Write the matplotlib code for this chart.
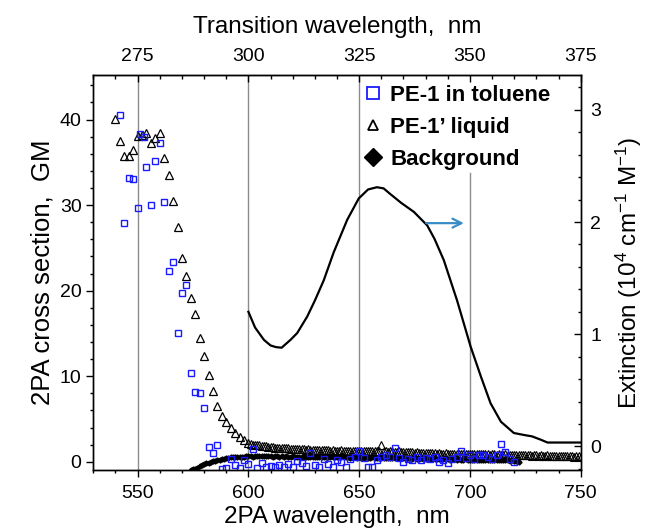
import numpy as np
import matplotlib
matplotlib.use('Agg')
from matplotlib import pyplot as plt
from matplotlib.lines import Line2D
from matplotlib.ticker import MultipleLocator, FixedLocator

plt.rcParams['font.family'] = ['Liberation Sans', 'DejaVu Sans']
plt.rcParams['mathtext.default'] = 'regular'

# PE-1' liquid (triangles), sparse part + dense scan
liq_x = [540, 542, 544, 546, 548, 550, 552, 554, 556, 558, 560, 562, 564, 566, 568,
         570, 572, 574, 576, 578, 580, 582, 584, 586, 588, 590, 592, 594, 596, 598, 600]
liq_y = [40.1, 37.5, 35.7, 35.7, 36.4, 38.1, 38.2, 38.4, 37.3, 37.8, 38.4, 35.5, 33.5,
         30.5, 27.4, 23.8, 21.7, 19.1, 17.3, 14.5, 12.3, 10.1, 8.3, 6.5, 5.3, 4.6, 4.0,
         3.4, 2.9, 2.5, 2.2]
liq_scan_x = np.arange(601, 751)
liq_scan_y = [2.1, 2.0, 2.0, 1.9, 1.9, 1.85, 1.8, 1.8, 1.75, 1.7,
              1.7, 1.65, 1.65, 1.6, 1.6, 1.6, 1.55, 1.55, 1.5, 1.5,
              1.5, 1.45, 1.5, 1.45, 1.45, 1.4, 1.45, 1.4, 1.4, 1.4,
              1.35, 1.4, 1.35, 1.35, 1.4, 1.35, 1.3, 1.35, 1.3, 1.3,
              1.3, 1.35, 1.3, 1.3, 1.25, 1.3, 1.3, 1.25, 1.3, 1.25,
              1.25, 1.3, 1.25, 1.25, 1.2, 1.25, 1.25, 1.2, 1.25, 1.9,
              1.2, 1.2, 1.15, 1.2, 1.2, 1.15, 1.15, 1.2, 1.1, 1.15,
              1.1, 1.1, 1.15, 1.1, 1.05, 1.1, 1.05, 1.05, 1.0, 1.05,
              1.0, 1.0, 1.05, 1.0, 0.95, 1.0, 0.95, 0.95, 1.0, 0.95,
              0.95, 0.9, 0.95, 0.9, 0.9, 0.95, 0.9, 0.9, 0.85, 0.9,
              0.9, 0.85, 0.9, 0.85, 0.85, 0.9, 0.85, 0.85, 0.8, 0.85,
              0.85, 0.8, 0.85, 0.8, 0.8, 0.85, 0.8, 0.8, 0.75, 0.8,
              0.8, 0.75, 0.8, 0.75, 0.75, 0.8, 0.75, 0.7, 0.75, 0.75,
              0.7, 0.75, 0.7, 0.7, 0.75, 0.7, 0.7, 0.65, 0.7, 0.7,
              0.65, 0.7, 0.65, 0.65, 0.7, 0.65, 0.6, 0.65, 0.65, 0.6]

# PE-1 in toluene (squares)
tol_x = [542, 544, 546, 548, 550, 551, 553, 554, 556, 558, 560, 562, 564, 566, 568,
         570, 572, 574, 576, 578, 580, 582, 584, 586, 588, 590, 592, 594, 596, 598,
         600, 602, 604, 606, 608, 610, 612, 614, 616, 618, 620, 622, 624, 626, 628,
         630, 632, 634, 636, 638, 640, 642, 644, 646, 648, 650, 652, 654, 656, 658,
         660, 662, 664, 666, 668, 670, 672, 674, 676, 678, 680, 682, 684, 686, 688,
         690, 692, 694, 696, 698, 700, 702, 704, 706, 708, 710, 712, 714, 716, 718, 720]
tol_y = [40.5, 27.9, 33.2, 33.1, 29.7, 38.3, 38.0, 34.5, 30.0, 35.2, 37.3, 30.3, 22.3,
         23.3, 15.0, 19.7, 20.6, 10.4, 8.1, 8.0, 6.3, 1.7, 1.0, 1.9, -0.8, -0.7, 0.3,
         -0.4, -0.7, 0.2, -0.3, 1.5, -0.7, -0.2, -0.6, -0.5, -0.6, -0.4, -0.6, -0.3,
         -0.6, 0.1, -0.2, -0.5, 1.0, -0.4, -0.6, 0.3, -0.3, -0.6, 0.2, 0.0, -0.6, 0.3,
         0.6, 1.3, 0.4, -0.6, -0.6, 0.2, 0.5, 0.8, 0.6, 1.6, 0.4, 0.0, 0.3, 0.2, 0.5,
         0.2, 0.4, 0.3, 0.5, 0.0, 0.2, -0.2, 0.3, 0.5, 1.2, 0.4, 0.8, 0.3, 0.8, 0.8,
         0.5, 0.3, 0.8, 2.1, 1.1, 0.3, 0.0]

# Background (small filled diamonds)
bg_x = np.arange(574, 723)
bg_y = [-1.0, -0.9, -0.8, -0.7, -0.55, -0.4, -0.3, -0.2, -0.1, 0.0,
        0.05, 0.1, 0.2, 0.25, 0.3, 0.35, 0.4, 0.45, 0.5, 0.5,
        0.55, 0.55, 0.6, 0.6, 0.6, 0.65, 0.65, 0.65, 0.6, 0.65,
        0.65, 0.7, 0.65, 0.65, 0.7, 0.65, 0.65, 0.6, 0.65, 0.65,
        0.6, 0.65, 0.6, 0.65, 0.6, 0.6, 0.65, 0.6, 0.6, 0.55,
        0.6, 0.6, 0.55, 0.6, 0.55, 0.6, 0.55, 0.55, 0.6, 0.55,
        0.55, 0.5, 0.55, 0.55, 0.5, 0.55, 0.5, 0.5, 0.55, 0.5,
        0.5, 0.5, 0.45, 0.5, 0.5, 0.45, 0.5, 0.45, 0.45, 0.5,
        0.45, 0.45, 0.5, 0.45, 0.4, 0.45, 0.45, 0.4, 0.45, 0.4,
        0.4, 0.45, 0.4, 0.4, 0.45, 0.4, 0.4, 0.35, 0.4, 0.4,
        0.35, 0.4, 0.35, 0.35, 0.4, 0.35, 0.35, 0.3, 0.35, 0.35,
        0.3, 0.35, 0.3, 0.3, 0.35, 0.3, 0.3, 0.25, 0.3, 0.3,
        0.25, 0.3, 0.25, 0.25, 0.3, 0.25, 0.25, 0.2, 0.25, 0.25,
        0.2, 0.25, 0.2, 0.2, 0.25, 0.2, 0.2, 0.15, 0.2, 0.2,
        0.15, 0.2, 0.15, 0.15, 0.1, 0.15, 0.1, 0.05, 0.0]

# extinction spectrum, plotted against 2PA wavelength (= 2 x transition wavelength)
ext_x = [600, 603, 607, 610, 612.5, 615, 619, 622, 626.5, 630, 634, 638.5, 644.6, 649.8,
         654, 658, 661, 664, 669, 674.7, 680.7, 684, 688.2, 694.2, 700.3, 705, 709.3,
         714, 719.8, 725, 728, 732, 735, 750]
ext_y = [1.20, 1.06, 0.95, 0.90, 0.885, 0.88, 0.95, 1.01, 1.156, 1.30, 1.48, 1.73, 2.02,
         2.21, 2.29, 2.31, 2.30, 2.25, 2.17, 2.09, 1.97, 1.85, 1.66, 1.30, 0.89, 0.62,
         0.385, 0.22, 0.12, 0.10, 0.09, 0.06, 0.035, 0.035]

grid_x = [550, 600, 650, 700]
top_ticks = [275, 300, 325, 350, 375]
top_minor = [265, 270, 280, 285, 290, 295, 305, 310, 315, 320, 330, 335, 340, 345,
             355, 360, 365, 370]

fig = plt.figure(figsize=(6.49, 5.32), dpi=100)
ax = fig.add_axes([0.1438, 0.1165, 0.751, 0.7425])
ax2 = ax.twinx()

for gx in grid_x:
    top = 0.752 if gx == 700 else 1.0
    ax.axvline(gx, ymax=top, color='#8c8c8c', lw=1.0, zorder=0)

ax.plot(liq_x, liq_y, ls='none', marker='^', ms=6, mfc='none', mec='black', mew=0.9)
ax.plot(liq_scan_x, liq_scan_y, ls='none', marker='^', ms=6, mfc='none', mec='black', mew=0.8)
ax.plot(bg_x, bg_y, ls='none', marker='D', ms=2.6, color='black')
ax.plot(tol_x, tol_y, ls='none', marker='s', ms=4.3, mfc='none', mec='#1a1aff', mew=1.0)

ax.set_xlim(530, 750)
ax.set_ylim(-0.97, 45.2)
ax.xaxis.set_major_locator(MultipleLocator(50))
ax.xaxis.set_minor_locator(MultipleLocator(10))
ax.yaxis.set_major_locator(MultipleLocator(10))
ax.yaxis.set_minor_locator(MultipleLocator(2))
ax.tick_params(axis='both', which='major', direction='out', length=5, width=1, labelsize=14)
ax.tick_params(axis='x', which='major', pad=6)
ax.tick_params(axis='both', which='minor', direction='out', length=2.5, width=1)
ax.tick_params(axis='x', top=False)
ax.set_xlabel('2PA wavelength,  nm', fontsize=17.5, labelpad=3)
ax.set_ylabel('2PA cross section,  GM', fontsize=18.5, labelpad=4)

ax2.plot(ext_x, ext_y, color='black', lw=1.6)
ax2.set_ylim(-0.21, 3.31)
ax2.yaxis.set_major_locator(MultipleLocator(1))
ax2.yaxis.set_minor_locator(MultipleLocator(0.2))
ax2.tick_params(axis='y', which='major', direction='in', length=5, width=1, labelsize=14, pad=7)
ax2.tick_params(axis='y', which='minor', direction='in', length=2.5, width=1)
ax2.set_ylabel('Extinction (10$^4$ cm$^{-1}$ M$^{-1}$)', fontsize=17.5, labelpad=9)
ax2.annotate('', xy=(698.5, 1.99), xytext=(679, 1.99),
             arrowprops=dict(arrowstyle='->', color='#3a8cc6', lw=1.6, mutation_scale=16))

top_ax = ax.secondary_xaxis('top', functions=(lambda x: x / 2, lambda x: x * 2))
top_ax.xaxis.set_major_locator(FixedLocator(top_ticks))
top_ax.xaxis.set_minor_locator(FixedLocator(top_minor))
top_ax.tick_params(which='major', direction='in', length=5, width=1, labelsize=14, pad=7)
top_ax.tick_params(which='minor', direction='in', length=3, width=1)
top_ax.set_xlabel('Transition wavelength,  nm', fontsize=17.5, labelpad=11)

for a in (ax, ax2):
    for s in a.spines.values():
        s.set_linewidth(1.0)

handles = [
    Line2D([], [], ls='none', marker='s', ms=8, mfc='none', mec='#1a1aff', mew=1.3),
    Line2D([], [], ls='none', marker='^', ms=7, mfc='none', mec='black', mew=1.3),
    Line2D([], [], ls='none', marker='D', ms=9, color='black'),
]
labels = ['PE-1 in toluene', 'PE-1\u2019 liquid', 'Background']
ax2.legend(handles, labels, loc='upper left', bbox_to_anchor=(0.545, 0.987), frameon=False,
           prop={'weight': 'bold', 'size': 16}, handlelength=0.85, handletextpad=0.35,
           labelspacing=0.5, borderpad=0.2, borderaxespad=0)

fig.savefig('out.png', dpi=100)
